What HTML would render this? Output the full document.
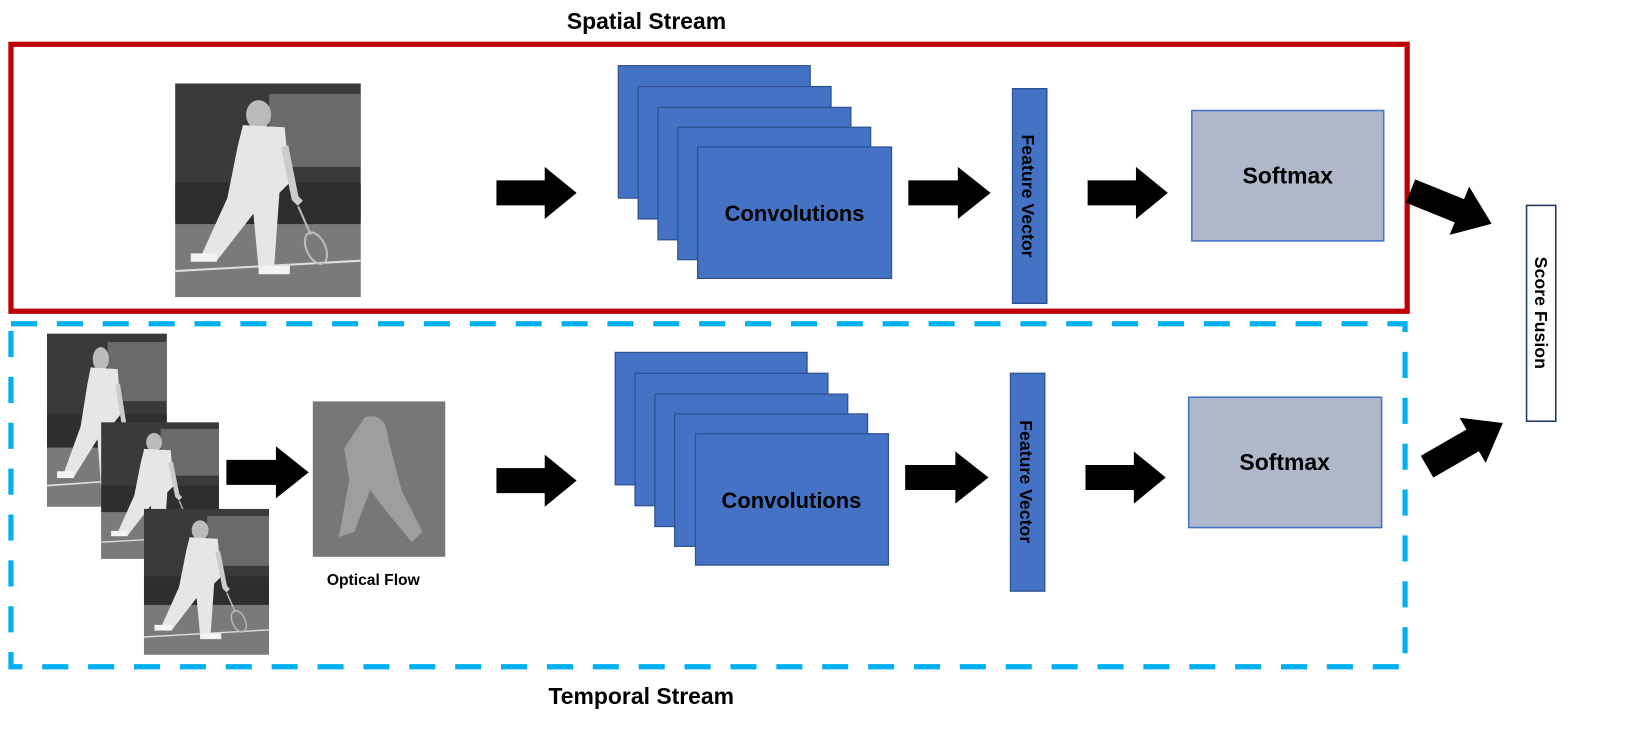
<!DOCTYPE html>
<html><head><meta charset="utf-8"><style>
html,body{margin:0;padding:0;background:#fff}
svg{display:block}
text{font-family:"Liberation Sans",sans-serif;font-weight:bold}
</style></head><body>
<svg width="1635" height="743" viewBox="0 0 1568 712.6" preserveAspectRatio="none" xmlns="http://www.w3.org/2000/svg">
<defs>
<symbol id="photo" viewBox="0 0 178 205" preserveAspectRatio="none">
<rect width="178" height="205" fill="#6e6e6e"/>
<rect width="178" height="130" fill="#3a3a3a"/>
<rect x="90" y="10" width="88" height="70" fill="#6a6a6a"/>
<rect x="0" y="95" width="178" height="40" fill="#2e2e2e"/>
<rect x="0" y="135" width="178" height="70" fill="#7a7a7a"/>
<line x1="0" y1="180" x2="178" y2="170" stroke="#ddd" stroke-width="2"/>
<ellipse cx="80" cy="30" rx="12" ry="14" fill="#bbb"/>
<path d="M65 40 L105 42 L110 95 L100 105 L95 175 L80 178 L75 125 L40 170 L25 165 L50 110 L60 60 Z" fill="#e6e6e6"/>
<path d="M105 60 L115 110 L120 115" stroke="#ccc" stroke-width="7" fill="none"/>
<line x1="118" y1="118" x2="130" y2="145" stroke="#bbb" stroke-width="2"/>
<ellipse cx="135" cy="158" rx="9" ry="16" fill="none" stroke="#bbb" stroke-width="2" transform="rotate(-25 135 158)"/>
<rect x="15" y="163" width="25" height="8" fill="#f4f4f4"/>
<rect x="80" y="175" width="30" height="8" fill="#f4f4f4"/>
</symbol>
<symbol id="arr" viewBox="0 0 78 50" preserveAspectRatio="none">
<polygon points="0,13 47,13 47,0 78,25 47,50 47,37 0,37" fill="#000"/>
</symbol>
</defs>

<text x="620" y="28" font-size="22" text-anchor="middle">Spatial Stream</text>
<text x="615" y="675" font-size="22" text-anchor="middle">Temporal Stream</text>

<rect x="10.5" y="42.5" width="1339" height="256" fill="none" stroke="#c00000" stroke-width="5"/>
<rect x="10.5" y="310.5" width="1337" height="329" fill="none" stroke="#00b0f0" stroke-width="5" stroke-dasharray="25 19"/>

<use href="#photo" x="168" y="80" width="178" height="205"/>
<use href="#photo" x="45" y="320" width="115" height="166"/>
<use href="#photo" x="97" y="405" width="113" height="131"/>
<use href="#photo" x="138" y="488" width="120" height="140"/>

<rect x="300" y="385" width="127" height="149" fill="#777"/>
<path d="M350 400 Q370 395 372 420 L385 470 L405 510 L395 520 L370 490 L355 470 L340 510 L325 515 L335 460 L330 430 Z" fill="#a8a8a8" opacity="0.8"/>
<text x="358" y="561" font-size="15" text-anchor="middle">Optical Flow</text>

<g fill="#4472c4" stroke="#2f528f" stroke-width="1.2">
<rect x="593" y="63" width="184" height="127"/>
<rect x="612" y="83" width="185" height="127"/>
<rect x="631" y="103" width="185" height="127"/>
<rect x="650" y="122" width="185" height="127"/>
<rect x="669" y="141" width="186" height="126"/>
<rect x="971" y="85" width="33" height="206"/>
<rect x="590" y="338" width="184" height="127"/>
<rect x="609" y="358" width="185" height="127"/>
<rect x="628" y="378" width="185" height="127"/>
<rect x="647" y="397" width="185" height="127"/>
<rect x="667" y="416" width="185" height="126"/>
<rect x="969" y="358" width="33" height="209"/>
</g>
<text x="762" y="212" font-size="21" text-anchor="middle">Convolutions</text>
<text x="759" y="487" font-size="21" text-anchor="middle">Convolutions</text>
<text transform="translate(980 188) rotate(90)" font-size="17" text-anchor="middle">Feature Vector</text>
<text transform="translate(978 462) rotate(90)" font-size="17" text-anchor="middle">Feature Vector</text>

<rect x="1143" y="106" width="184" height="125" fill="#adb9ca" stroke="#4472c4" stroke-width="1.5"/>
<rect x="1140" y="381" width="185" height="125" fill="#adb9ca" stroke="#4472c4" stroke-width="1.5"/>
<text x="1235" y="176" font-size="22" text-anchor="middle">Softmax</text>
<text x="1232" y="451" font-size="22" text-anchor="middle">Softmax</text>

<rect x="1464" y="197" width="28" height="207" fill="#fff" stroke="#1f3864" stroke-width="1.5"/>
<text transform="translate(1472 300) rotate(90)" font-size="17" text-anchor="middle">Score Fusion</text>

<use href="#arr" x="476" y="160" width="77" height="50"/>
<use href="#arr" x="871" y="160" width="79" height="50"/>
<use href="#arr" x="1043" y="160" width="77" height="50"/>
<use href="#arr" x="217" y="428" width="79" height="50"/>
<use href="#arr" x="476" y="436" width="77" height="50"/>
<use href="#arr" x="868" y="433" width="80" height="50"/>
<use href="#arr" x="1041" y="433" width="77" height="50"/>
<use href="#arr" x="0" y="0" width="84" height="50" transform="translate(1362 160) rotate(22)"/>
<use href="#arr" x="0" y="0" width="84" height="50" transform="translate(1356 426) rotate(-30)"/>
</svg>
</body></html>
